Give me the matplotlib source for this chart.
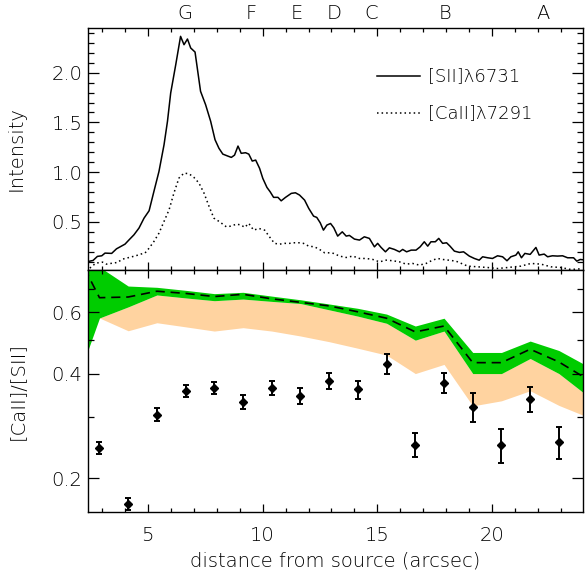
import numpy as np
import matplotlib
matplotlib.use("Agg")
import matplotlib.pyplot as plt
from matplotlib.ticker import MultipleLocator, FixedLocator, NullFormatter, FixedFormatter
from matplotlib.lines import Line2D
from matplotlib.transforms import blended_transform_factory

# ---------------- intensity profiles along the jet ----------------
sii_x = [2.42, 2.62, 2.81, 3.00, 3.14, 3.43, 3.64, 4.01, 4.19, 4.40, 4.62, 4.84,
         5.06, 5.27, 5.49, 5.71, 5.86, 6.00, 6.22, 6.43, 6.58, 6.73, 6.87, 7.06,
         7.30, 7.52, 7.74, 7.93, 8.10, 8.27, 8.49, 8.64, 8.78, 8.93, 9.07, 9.26,
         9.40, 9.55, 9.70, 9.87, 10.01, 10.19, 10.33, 10.48, 10.67, 10.81, 11.00,
         11.25, 11.43, 11.61, 11.83, 12.01, 12.22, 12.36, 12.51, 12.65, 12.80,
         12.96, 13.10, 13.27, 13.47, 13.64, 13.78, 14.00, 14.22, 14.43, 14.65,
         14.87, 15.01, 15.16, 15.35, 15.52, 15.74, 15.96, 16.10, 16.27, 16.47,
         16.68, 16.86, 17.04, 17.19, 17.33, 17.52, 17.67, 17.84, 18.01, 18.16,
         18.35, 18.57, 18.75, 19.00, 19.22, 19.43, 19.58, 19.80, 20.01, 20.23,
         20.45, 20.64, 20.81, 21.03, 21.13, 21.27, 21.42, 21.65, 21.90, 22.04,
         22.26, 22.41, 22.62, 22.84, 23.06, 23.28, 23.54, 23.68, 23.83, 23.95]
sii_y = [0.101, 0.111, 0.152, 0.158, 0.185, 0.182, 0.228, 0.275, 0.319, 0.369,
         0.437, 0.537, 0.611, 0.806, 1.007, 1.275, 1.511, 1.796, 2.081, 2.366,
         2.282, 2.339, 2.249, 2.208, 1.813, 1.678, 1.511, 1.326, 1.240, 1.181,
         1.161, 1.148, 1.171, 1.262, 1.189, 1.195, 1.181, 1.111, 1.121, 1.038,
         0.937, 0.846, 0.802, 0.746, 0.746, 0.711, 0.746, 0.786, 0.792, 0.769,
         0.718, 0.635, 0.557, 0.544, 0.490, 0.416, 0.467, 0.483, 0.440, 0.356,
         0.399, 0.356, 0.363, 0.326, 0.316, 0.349, 0.333, 0.248, 0.283, 0.242,
         0.198, 0.238, 0.222, 0.198, 0.222, 0.198, 0.215, 0.215, 0.248, 0.299,
         0.255, 0.299, 0.299, 0.333, 0.283, 0.289, 0.255, 0.205, 0.192, 0.198,
         0.155, 0.131, 0.114, 0.148, 0.138, 0.131, 0.158, 0.148, 0.108, 0.148,
         0.165, 0.198, 0.138, 0.182, 0.172, 0.242, 0.165, 0.175, 0.148, 0.158,
         0.155, 0.158, 0.138, 0.138, 0.104, 0.121, 0.118]

caii_x = [2.48, 2.74, 3.03, 3.20, 3.47, 3.68, 3.90, 4.19, 4.48, 4.70, 4.88, 5.06,
          5.27, 5.49, 5.71, 5.93, 6.14, 6.36, 6.58, 6.80, 7.01, 7.23, 7.45, 7.67,
          7.88, 8.13, 8.42, 8.64, 8.86, 9.07, 9.22, 9.40, 9.61, 9.84, 10.09,
          10.30, 10.52, 10.74, 10.96, 11.17, 11.39, 11.58, 11.78, 12.01, 12.26,
          12.48, 12.70, 12.94, 13.09, 13.35, 13.64, 13.93, 14.22, 14.51, 14.80,
          15.09, 15.38, 15.67, 15.96, 16.25, 16.53, 16.83, 17.12, 17.40, 17.62,
          17.84, 18.10, 18.42, 18.93, 19.36, 19.80, 20.23, 20.67, 21.25, 21.68,
          22.12, 22.55, 22.99, 23.42, 23.86]
caii_y = [0.034, 0.084, 0.094, 0.074, 0.084, 0.091, 0.124, 0.141, 0.158, 0.175,
          0.185, 0.235, 0.302, 0.386, 0.504, 0.621, 0.789, 0.940, 0.990, 0.983,
          0.947, 0.890, 0.789, 0.655, 0.537, 0.500, 0.450, 0.457, 0.477, 0.467,
          0.444, 0.484, 0.416, 0.433, 0.416, 0.349, 0.283, 0.275, 0.283, 0.283,
          0.289, 0.289, 0.283, 0.255, 0.248, 0.222, 0.188, 0.188, 0.182, 0.155,
          0.141, 0.155, 0.131, 0.131, 0.121, 0.097, 0.114, 0.108, 0.097, 0.074,
          0.081, 0.064, 0.081, 0.114, 0.131, 0.121, 0.114, 0.104, 0.054, 0.047,
          0.040, 0.030, 0.040, 0.054, 0.081, 0.074, 0.047, 0.040, 0.020, 0.027]

knot_names = ["G", "F", "E", "D", "C", "B", "A"]
knot_pos = [6.6, 9.5, 11.5, 13.1, 14.75, 17.95, 22.2]

# ---------------- line ratio: measurements ----------------
ratio_x = [2.9, 4.15, 5.4, 6.65, 7.9, 9.15, 10.4, 11.65, 12.9, 14.15, 15.4,
           16.65, 17.9, 19.15, 20.4, 21.65, 22.9]
ratio_y = [0.245, 0.169, 0.305, 0.356, 0.364, 0.332, 0.364, 0.345, 0.381, 0.360,
           0.426, 0.250, 0.377, 0.321, 0.250, 0.339, 0.254]
ratio_err = [0.010, 0.007, 0.013, 0.014, 0.015, 0.015, 0.017, 0.018, 0.021,
             0.022, 0.028, 0.020, 0.025, 0.030, 0.028, 0.028, 0.027]

# ---------------- line ratio: model bands ----------------
band_x = [1.65, 2.9, 4.15, 5.4, 6.65, 7.9, 9.15, 10.4, 11.65, 12.9, 14.15, 15.4,
          16.65, 17.9, 19.15, 20.4, 21.65, 22.9, 24.15]
green_hi = [1.00, 0.81, 0.714, 0.708, 0.694, 0.679, 0.685, 0.668, 0.652, 0.634,
            0.616, 0.593, 0.548, 0.577, 0.460, 0.460, 0.496, 0.466, 0.42]
model_mid = [0.96, 0.661, 0.664, 0.690, 0.680, 0.666, 0.676, 0.656, 0.641, 0.626,
             0.602, 0.577, 0.527, 0.548, 0.430, 0.430, 0.470, 0.432, 0.385]
green_lo = [0.34, 0.578, 0.622, 0.673, 0.660, 0.648, 0.655, 0.645, 0.636, 0.610,
            0.585, 0.558, 0.499, 0.530, 0.400, 0.400, 0.442, 0.400, 0.345]
orange_lo = [np.nan, 0.578, 0.531, 0.560, 0.545, 0.530, 0.542, 0.530, 0.513, 0.494,
             0.473, 0.452, 0.400, 0.425, 0.323, 0.334, 0.357, 0.324, 0.30]

plt.rcParams["font.family"] = ["DejaVu Sans"]
plt.rcParams["font.weight"] = "light"
plt.rcParams["axes.labelweight"] = "light"
FS = 14

fig = plt.figure(figsize=(5.88, 5.77), dpi=100)
left, width = 88 / 588, 495 / 588
ax1 = fig.add_axes([left, 1 - 270 / 577, width, 242 / 577])
ax2 = fig.add_axes([left, 1 - 512 / 577, width, 242 / 577], sharex=ax1)

xmin, xmax = 2.4, 23.95

# ---- upper panel ----
ax1.plot(sii_x, sii_y, color="k", lw=1.1)
ax1.plot(caii_x, caii_y, color="k", lw=1.1, linestyle=(0, (1, 2)))
ax1.set_xlim(xmin, xmax)
ax1.set_ylim(0.015, 2.45)
ax1.yaxis.set_major_locator(FixedLocator([0.5, 1.0, 1.5, 2.0]))
ax1.yaxis.set_minor_locator(MultipleLocator(0.1))
ax1.set_ylabel("Intensity", fontsize=FS)
ax1.yaxis.set_label_coords(-0.127, 0.5)
ax1.tick_params(axis="x", labelbottom=False)

tr = blended_transform_factory(ax1.transData, ax1.transAxes)
for name, pos in zip(knot_names, knot_pos):
    ax1.text(pos, 1.06, name, transform=tr, ha="center", va="center", fontsize=FS)

# legend drawn by hand
ax1.add_line(Line2D([0.584, 0.671], [0.802, 0.802], transform=ax1.transAxes,
                    color="k", lw=1.1))
ax1.add_line(Line2D([0.584, 0.671], [0.649, 0.649], transform=ax1.transAxes,
                    color="k", lw=1.1, linestyle=(0, (1, 2))))
ax1.text(0.687, 0.802, "[SII]λ6731", transform=ax1.transAxes, va="center",
         ha="left", fontsize=FS - 1)
ax1.text(0.687, 0.649, "[CaII]λ7291", transform=ax1.transAxes, va="center",
         ha="left", fontsize=FS - 1)

# ---- lower panel ----
ax2.set_yscale("log")
ax2.fill_between(band_x, orange_lo, green_lo, color="#FFD3A0", lw=0)
ax2.fill_between(band_x, green_lo, green_hi, color="#00CC00", lw=0)
ax2.plot(band_x, model_mid, color="k", lw=1.2, dashes=(5.5, 3.5))
ax2.errorbar(ratio_x, ratio_y, yerr=ratio_err, fmt="D", color="k", ms=4.5,
             capsize=2.5, elinewidth=1.4, capthick=1.4)
ax2.set_xlim(xmin, xmax)
ax2.set_ylim(0.16, 0.794)
ax2.yaxis.set_major_locator(FixedLocator([0.2, 0.4, 0.6]))
ax2.yaxis.set_major_formatter(FixedFormatter(["0.2", "0.4", "0.6"]))
ax2.yaxis.set_minor_locator(FixedLocator([0.3, 0.5, 0.7]))
ax2.yaxis.set_minor_formatter(NullFormatter())
ax2.set_ylabel("[CaII]/[SII]", fontsize=FS)
ax2.yaxis.set_label_coords(-0.121, 0.5)
ax2.set_xlabel("distance from source (arcsec)", fontsize=FS)
ax2.xaxis.set_label_coords(0.5, -0.165)

for ax in (ax1, ax2):
    ax.xaxis.set_major_locator(FixedLocator([5, 10, 15, 20]))
    ax.xaxis.set_minor_locator(MultipleLocator(1))
    ax.tick_params(which="both", direction="in", top=True, right=True,
                   labelsize=FS, width=0.9, color="k")
    ax.tick_params(axis="x", which="major", length=5.5, pad=10)
    ax.tick_params(axis="x", which="minor", length=3)
    ax.tick_params(axis="y", which="major", length=8, pad=4)
    ax.tick_params(axis="y", which="minor", length=4.5)
    for s in ax.spines.values():
        s.set_linewidth(1.0)

fig.savefig("out.png", dpi=100)
